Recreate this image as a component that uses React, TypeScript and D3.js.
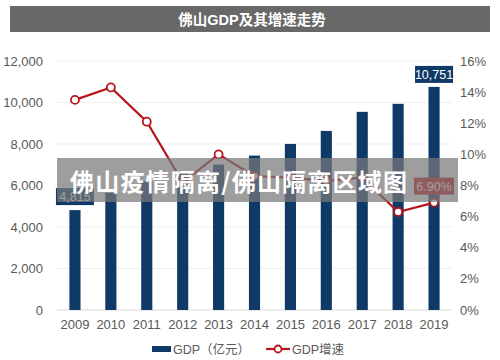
import React, { useEffect, useRef } from 'react';
import * as d3 from 'd3';

const years = ['2009', '2010', '2011', '2012', '2013', '2014', '2015', '2016', '2017', '2018', '2019'];
const gdp = [4815, 5652, 6210, 6613, 7010, 7441, 8004, 8630, 9550, 9936, 10751];
const growth = [13.5, 14.3, 12.1, 8.2, 10.0, 8.6, 8.5, 8.3, 8.5, 6.3, 6.9];
const leftTicks = [0, 2000, 4000, 6000, 8000, 10000, 12000];
const rightTicks = [0, 2, 4, 6, 8, 10, 12, 14, 16];

export default function App() {
  const svgRef = useRef<SVGSVGElement | null>(null);

  useEffect(() => {
    const svg = d3.select(svgRef.current);
    svg.selectAll('*').remove();

    const font = 'Arial, "Liberation Sans", "Noto Sans CJK SC", sans-serif';
    const plot = { left: 57, right: 452, top: 61, bottom: 310 };

    // scales
    const x = d3.scaleBand().domain(years).range([plot.left, plot.right])
      .paddingInner(0.69).paddingOuter(0.345);
    const yL = d3.scaleLinear().domain([0, 12000]).range([plot.bottom, plot.top]);
    const yR = d3.scaleLinear().domain([0, 16]).range([plot.bottom, plot.top]);
    const cx = (d: string) => (x(d) as number) + x.bandwidth() / 2;

    // title bar
    svg.append('rect').attr('x', 10).attr('y', 6).attr('width', 480).attr('height', 26).attr('fill', '#686868');
    svg.append('text').attr('x', 252).attr('y', 24.5).attr('text-anchor', 'middle')
      .attr('fill', '#fff').attr('font-family', font).attr('font-weight', 'bold').attr('font-size', 14.5)
      .text('佛山GDP及其增速走势');

    // grid
    svg.append('g').selectAll('line').data(leftTicks).enter().append('line')
      .attr('x1', plot.left).attr('x2', plot.right)
      .attr('y1', d => yL(d)).attr('y2', d => yL(d))
      .attr('stroke', d => d === 0 ? '#d9d9d9' : '#efefef');

    // left axis labels
    svg.append('g').selectAll('text').data(leftTicks).enter().append('text')
      .attr('x', 43).attr('y', d => yL(d) + 4.5).attr('text-anchor', 'end')
      .attr('fill', '#595959').attr('font-family', font).attr('font-size', 13)
      .text(d => d3.format(',')(d));

    // right axis labels
    svg.append('g').selectAll('text').data(rightTicks).enter().append('text')
      .attr('x', 460).attr('y', d => yR(d) + 4.5)
      .attr('fill', '#595959').attr('font-family', font).attr('font-size', 13)
      .text(d => d + '%');

    // x labels
    svg.append('g').selectAll('text').data(years).enter().append('text')
      .attr('x', d => cx(d)).attr('y', 329).attr('text-anchor', 'middle')
      .attr('fill', '#595959').attr('font-family', font).attr('font-size', 13)
      .text(d => d);

    // bars
    svg.append('g').selectAll('rect').data(gdp).enter().append('rect')
      .attr('x', (d, i) => x(years[i]) as number)
      .attr('width', x.bandwidth())
      .attr('y', d => yL(d))
      .attr('height', d => plot.bottom - yL(d))
      .attr('fill', '#0f3a68');

    // growth line
    const line = d3.line<number>().x((d, i) => cx(years[i])).y(d => yR(d));
    svg.append('path').datum(growth).attr('d', line)
      .attr('fill', 'none').attr('stroke', '#b8141c').attr('stroke-width', 2.2);
    svg.append('g').selectAll('circle').data(growth).enter().append('circle')
      .attr('cx', (d, i) => cx(years[i])).attr('cy', d => yR(d)).attr('r', 4)
      .attr('fill', '#fff').attr('stroke', '#b8141c').attr('stroke-width', 1.8);

    // data labels
    const first = 0;
    const last = years.length - 1;
    const label = (px: number, py: number, w: number, txt: string, fill: string) => {
      svg.append('rect').attr('x', px - w / 2).attr('y', py).attr('width', w).attr('height', 17).attr('fill', fill);
      svg.append('text').attr('x', px).attr('y', py + 13).attr('text-anchor', 'middle')
        .attr('fill', '#fff').attr('font-family', font).attr('font-size', 12.5).text(txt);
    };
    label(cx(years[first]), yL(gdp[first]) - 22, 38, d3.format(',')(gdp[first]), '#0f3a68');
    label(cx(years[last]), yL(gdp[last]) - 21, 38, d3.format(',')(gdp[last]), '#0f3a68');
    label(cx(years[last]), yR(growth[last]) - 25, 40, growth[last].toFixed(2) + '%', '#d0101a');

    // watermark band
    svg.append('rect').attr('x', 57).attr('y', 158).attr('width', 401).attr('height', 44)
      .attr('fill', 'rgb(120,120,120)').attr('opacity', 0.72);
    svg.append('text').attr('x', 70).attr('y', 191)
      .attr('fill', '#fff').attr('font-family', '"Noto Sans CJK SC", sans-serif').attr('font-weight', 'bold')
      .attr('font-size', 24).attr('letter-spacing', 1.2).text('佛山疫情隔离/佛山隔离区域图');

    // legend
    svg.append('rect').attr('x', 152).attr('y', 346).attr('width', 19).attr('height', 6).attr('fill', '#0f3a68');
    svg.append('text').attr('x', 173).attr('y', 354).attr('fill', '#595959')
      .attr('font-family', font).attr('font-size', 12.5).text('GDP（亿元）');
    svg.append('line').attr('x1', 266).attr('x2', 290).attr('y1', 349).attr('y2', 349)
      .attr('stroke', '#b8141c').attr('stroke-width', 2.2);
    svg.append('circle').attr('cx', 278).attr('cy', 349).attr('r', 3.5)
      .attr('fill', '#fff').attr('stroke', '#b8141c').attr('stroke-width', 1.8);
    svg.append('text').attr('x', 292).attr('y', 354).attr('fill', '#595959')
      .attr('font-family', font).attr('font-size', 12.5).text('GDP增速');
  }, []);

  return (
    <svg ref={svgRef} width={500} height={360}
      style={{ position: 'absolute', left: 0, top: 0, background: '#fff' }} />
  );
}
